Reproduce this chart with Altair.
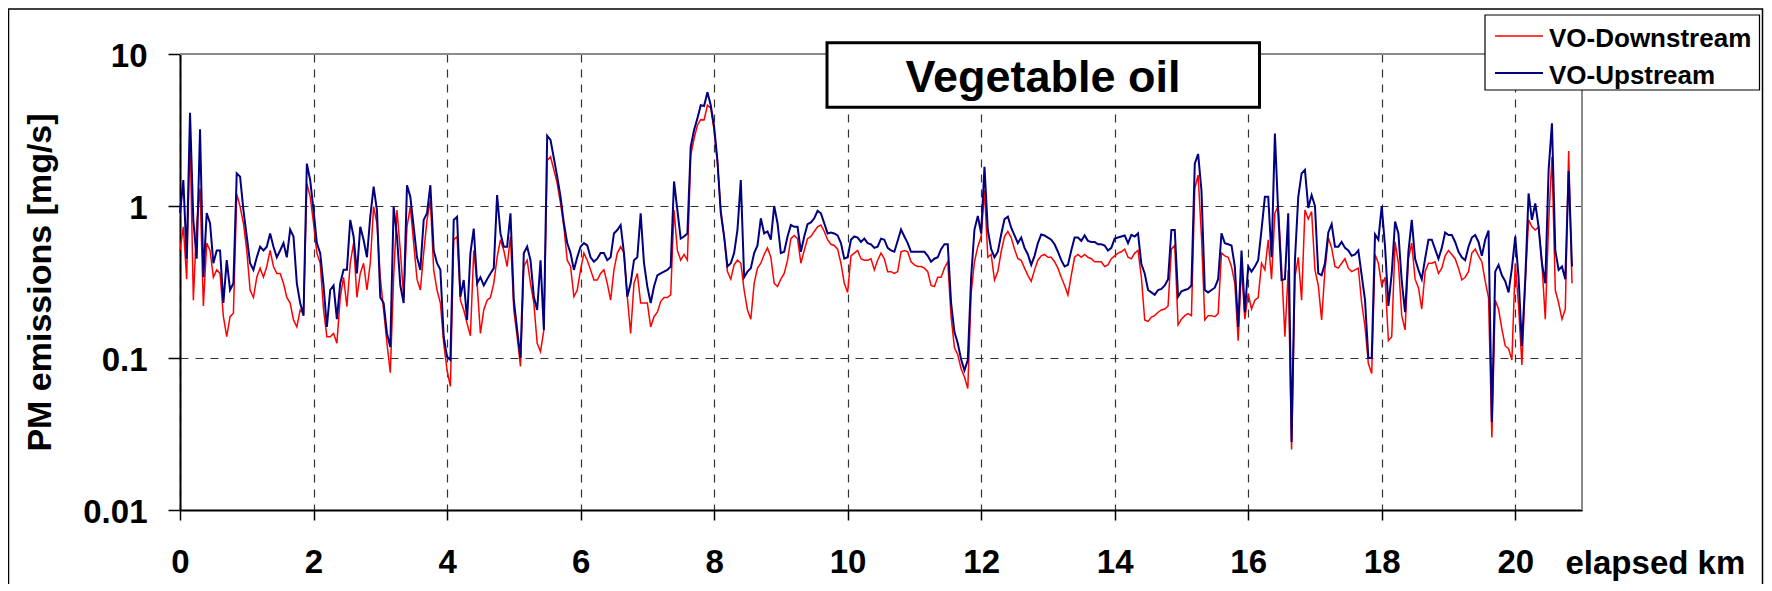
import altair as alt
import pandas as pd

# ---------------- data ----------------
KM_STEP = 0.05
SEGMENT_START_KM = [0.0, 3.65, 7.15, 10.65, 14.2, 17.7]

UP1 = [0.9, 1.48, 0.45, 4.1, 0.8, 0.45, 3.2, 0.34, 0.9, 0.77,
       0.42, 0.51, 0.51, 0.23, 0.44, 0.28, 0.31, 1.64, 1.56, 0.94,
       0.63, 0.42, 0.38, 0.46, 0.54, 0.51, 0.54, 0.66, 0.54, 0.46,
       0.51, 0.57, 0.46, 0.7, 0.63, 0.31, 0.23, 0.19, 1.9, 1.48,
       0.94, 0.57, 0.49, 0.3, 0.16, 0.28, 0.3, 0.18, 0.31, 0.38,
       0.38, 0.81, 0.63, 0.36, 0.73, 0.6, 0.46, 0.85, 1.34, 0.94,
       0.25, 0.23, 0.145, 0.118, 0.99, 0.63, 0.3, 0.23, 1.37, 1.15,
       0.73, 0.46, 0.38]
DOWN1 = [0.51, 0.73, 0.33, 3.0, 0.24, 0.77, 1.3, 0.22, 0.57, 0.51,
         0.34, 0.38, 0.36, 0.187, 0.138, 0.187, 0.197, 1.2, 0.99, 0.77,
         0.51, 0.28, 0.25, 0.34, 0.39, 0.34, 0.4, 0.51, 0.4, 0.36,
         0.36, 0.31, 0.25, 0.23, 0.178, 0.16, 0.207, 0.197, 1.41, 1.15,
         0.77, 0.49, 0.42, 0.207, 0.138, 0.138, 0.145, 0.125, 0.25, 0.34,
         0.218, 0.42, 0.57, 0.25, 0.36, 0.42, 0.28, 0.42, 0.99, 0.77,
         0.34, 0.207, 0.125, 0.08, 0.34, 0.94, 0.51, 0.25, 0.73, 0.99,
         0.57, 0.33, 0.28]

UP2 = [0.81, 0.895, 1.37, 0.51, 0.42, 0.38, 0.138, 0.102, 0.097, 0.81,
       0.85, 0.253, 0.326, 0.178, 0.49, 0.71, 0.31, 0.34, 0.3, 0.33,
       0.36, 0.39, 1.18, 0.66, 0.54, 0.54, 0.895, 0.24, 0.153, 0.1,
       0.49, 0.54, 0.44, 0.253, 0.207, 0.44, 0.153, 2.9, 2.72, 2.06,
       1.56, 1.15, 0.77, 0.57, 0.49, 0.38, 0.46, 0.54, 0.57, 0.55,
       0.46, 0.43, 0.45, 0.49, 0.49, 0.44, 0.46, 0.66, 0.695, 0.75,
       0.49, 0.253, 0.31, 0.44, 0.46, 0.895, 0.42, 0.295, 0.23, 0.295]
DOWN2 = [0.49, 0.81, 1.095, 0.38, 0.28, 0.23, 0.125, 0.083, 0.065, 0.6,
         0.63, 0.24, 0.207, 0.169, 0.14, 0.51, 0.31, 0.145, 0.207, 0.24,
         0.25, 0.31, 0.46, 0.6, 0.51, 0.4, 0.63, 0.207, 0.138, 0.088,
         0.4, 0.44, 0.31, 0.23, 0.125, 0.11, 0.153, 2.0, 2.11, 1.73,
         1.41, 1.04, 0.73, 0.44, 0.4, 0.253, 0.28, 0.38, 0.49, 0.44,
         0.38, 0.326, 0.326, 0.36, 0.38, 0.31, 0.24, 0.38, 0.49, 0.54,
         0.49, 0.253, 0.145, 0.31, 0.36, 0.23, 0.23, 0.23, 0.16, 0.187]

UP3 = [0.35, 0.36, 0.37, 0.38, 0.4, 1.45, 0.94, 0.61, 0.63, 0.66,
       2.46, 3.16, 3.77, 4.6, 4.55, 5.6, 4.6, 3.33, 2.0, 0.9,
       0.63, 0.4, 0.42, 0.49, 0.695, 1.48, 0.34, 0.37, 0.39, 0.49,
       0.55, 0.83, 0.66, 0.68, 0.6, 1.0, 0.77, 0.49, 0.5, 0.63,
       0.75, 0.73, 0.73, 0.5, 0.63, 0.76, 0.78, 0.83, 0.93, 0.895,
       0.77, 0.66, 0.67, 0.66, 0.64, 0.57, 0.45, 0.46, 0.6, 0.63,
       0.62, 0.58, 0.61, 0.57, 0.56, 0.53, 0.54, 0.61, 0.6, 0.53]
DOWN3 = [0.2, 0.235, 0.25, 0.25, 0.26, 0.94, 0.51, 0.44, 0.48, 0.44,
         2.16, 2.78, 3.4, 3.7, 3.68, 4.6, 4.4, 3.16, 1.91, 0.95,
         0.63, 0.37, 0.33, 0.41, 0.44, 0.42, 0.28, 0.207, 0.18, 0.31,
         0.39, 0.42, 0.48, 0.53, 0.46, 0.31, 0.295, 0.33, 0.36, 0.44,
         0.61, 0.64, 0.61, 0.42, 0.51, 0.61, 0.63, 0.68, 0.73, 0.75,
         0.68, 0.6, 0.56, 0.55, 0.52, 0.42, 0.31, 0.27, 0.47, 0.49,
         0.51, 0.45, 0.44, 0.44, 0.45, 0.38, 0.44, 0.49, 0.45, 0.37]

UP4 = [0.51, 0.5, 0.59, 0.7, 0.63, 0.57, 0.5, 0.5, 0.5, 0.5,
       0.5, 0.47, 0.43, 0.45, 0.46, 0.52, 0.56, 0.56, 0.23, 0.148,
       0.125, 0.098, 0.083, 0.097, 0.34, 0.7, 0.86, 0.66, 1.81, 0.695,
       0.52, 0.46, 0.5, 0.65, 0.82, 0.85, 0.72, 0.64, 0.57, 0.62,
       0.53, 0.48, 0.41, 0.47, 0.57, 0.65, 0.64, 0.62, 0.6, 0.56,
       0.5, 0.44, 0.4, 0.41, 0.51, 0.62, 0.62, 0.59, 0.64, 0.59,
       0.58, 0.58, 0.56, 0.56, 0.55, 0.51, 0.53, 0.61, 0.62, 0.63, 0.64]
DOWN4 = [0.37, 0.36, 0.37, 0.5, 0.51, 0.5, 0.43, 0.41, 0.4, 0.4,
         0.39, 0.37, 0.3, 0.295, 0.34, 0.34, 0.39, 0.43, 0.187, 0.117,
         0.105, 0.085, 0.075, 0.063, 0.266, 0.43, 0.54, 0.63, 1.27, 0.46,
         0.48, 0.326, 0.37, 0.5, 0.63, 0.68, 0.62, 0.52, 0.45, 0.44,
         0.39, 0.35, 0.32, 0.38, 0.44, 0.47, 0.48, 0.46, 0.46, 0.43,
         0.39, 0.34, 0.3, 0.26, 0.35, 0.46, 0.48, 0.46, 0.48, 0.46,
         0.45, 0.43, 0.43, 0.43, 0.4, 0.41, 0.45, 0.47, 0.49, 0.5, 0.52]

UP5 = [0.57, 0.645, 0.63, 0.66, 0.415, 0.36, 0.28, 0.27, 0.26, 0.28,
       0.285, 0.3, 0.33, 0.695, 0.695, 0.253, 0.275, 0.28, 0.285, 0.3,
       1.9, 2.2, 1.27, 0.28, 0.27, 0.28, 0.29, 0.33, 0.66, 0.57,
       0.56, 0.55, 0.4, 0.16, 0.51, 0.2, 0.4, 0.37, 0.4, 0.44,
       0.7, 1.15, 1.15, 0.46, 3.0, 0.9, 0.326, 0.33, 0.895, 0.028,
       0.44, 1.15, 1.64, 1.73, 0.97, 1.18, 1.0, 0.36, 0.35, 0.42,
       0.67, 0.76, 0.54, 0.54, 0.58, 0.53, 0.51, 0.47, 0.48, 0.51]
DOWN5 = [0.46, 0.45, 0.49, 0.51, 0.34, 0.178, 0.174, 0.186, 0.19, 0.2,
         0.207, 0.21, 0.22, 0.52, 0.55, 0.165, 0.18, 0.19, 0.196, 0.19,
         1.3, 1.6, 0.63, 0.178, 0.19, 0.19, 0.187, 0.196, 0.49, 0.47,
         0.46, 0.4, 0.31, 0.13, 0.4, 0.18, 0.266, 0.21, 0.24, 0.25,
         0.42, 0.38, 0.6, 0.33, 0.9, 1.0, 0.4, 0.138, 0.38, 0.025,
         0.34, 0.46, 0.24, 0.94, 0.82, 0.92, 0.38, 0.3, 0.178, 0.38,
         0.62, 0.53, 0.4, 0.39, 0.42, 0.45, 0.39, 0.37, 0.38, 0.39]

UP6 = [0.35, 0.24, 0.1, 0.1, 0.65, 0.6, 1.0, 0.54, 0.22, 0.36,
       0.79, 0.66, 0.32, 0.2, 0.5, 0.81, 0.45, 0.38, 0.33, 0.45,
       0.6, 0.6, 0.52, 0.45, 0.53, 0.67, 0.645, 0.645, 0.58, 0.5,
       0.46, 0.44, 0.54, 0.62, 0.645, 0.58, 0.47, 0.6, 0.69, 0.038,
       0.37, 0.41, 0.35, 0.32, 0.27, 0.39, 0.63, 0.34, 0.12, 0.33,
       1.21, 0.81, 1.04, 0.73, 0.42, 0.31, 1.73, 3.5, 0.51, 0.38,
       0.4, 0.33, 1.7, 0.4]
DOWN6 = [0.23, 0.16, 0.092, 0.079, 0.48, 0.42, 0.3, 0.34, 0.13, 0.138,
         0.58, 0.42, 0.19, 0.153, 0.45, 0.57, 0.33, 0.29, 0.21, 0.37,
         0.42, 0.42, 0.43, 0.36, 0.39, 0.47, 0.51, 0.48, 0.45, 0.39,
         0.326, 0.34, 0.37, 0.49, 0.52, 0.47, 0.43, 0.32, 0.25, 0.03,
         0.24, 0.21, 0.155, 0.12, 0.115, 0.097, 0.42, 0.22, 0.09, 0.31,
         0.81, 0.73, 0.695, 0.73, 0.42, 0.18, 0.77, 2.1, 0.28, 0.23,
         0.18, 0.21, 2.3, 0.31]

UPSTREAM_SEGMENTS = [UP1, UP2, UP3, UP4, UP5, UP6]
DOWNSTREAM_SEGMENTS = [DOWN1, DOWN2, DOWN3, DOWN4, DOWN5, DOWN6]

SERIES = ["VO-Downstream", "VO-Upstream"]
COLORS = ["#ff0000", "#000080"]
X_TICKS = [0, 2, 4, 6, 8, 10, 12, 14, 16, 18, 20]
Y_TICKS = [0.01, 0.1, 1, 10]
TITLE_TEXT = "Vegetable oil"
X_TITLE = "elapsed km"
Y_TITLE = "PM emissions [mg/s]"

# ---------------- table ----------------
rows = []
for start, ups, downs in zip(SEGMENT_START_KM, UPSTREAM_SEGMENTS, DOWNSTREAM_SEGMENTS):
    for j, v in enumerate(downs):
        rows.append({"km": round(start + j * KM_STEP, 3), "value": v, "series": SERIES[0]})
    for j, v in enumerate(ups):
        rows.append({"km": round(start + j * KM_STEP, 3), "value": v, "series": SERIES[1]})
df = pd.DataFrame(rows)

FONT = "Liberation Sans"
W, H = 1402, 456
one = pd.DataFrame({"k": [1]})

x_enc = alt.X(
    "km:Q",
    scale=alt.Scale(domain=[0, 21], nice=False, zero=False),
    axis=alt.Axis(
        values=X_TICKS, format="d", title=X_TITLE,
        grid=True, gridColor="#333333", gridDash=[8, 7], gridWidth=1.2,
        domainColor="black", domainWidth=2,
        tickColor="black", tickWidth=1.5, tickSize=10,
        labelFont=FONT, labelFontSize=33, labelFontWeight="bold", labelColor="black",
        labelBaseline="alphabetic", labelPadding=52, labelFlush=False, labelOverlap=False,
        titleFont=FONT, titleFontSize=33, titleFontWeight="bold", titleColor="black",
        titleX=1385, titleY=63, titleAlign="left", titleBaseline="alphabetic",
    ),
)
y_enc = alt.Y(
    "value:Q",
    scale=alt.Scale(type="log", domain=[0.01, 10], nice=False),
    axis=alt.Axis(
        values=Y_TICKS, format="~g", title=Y_TITLE,
        grid=True, gridColor="#333333", gridDash=[8, 7], gridWidth=1.2,
        domainColor="black", domainWidth=2,
        tickColor="black", tickWidth=1.5, tickSize=12,
        labelFont=FONT, labelFontSize=33, labelFontWeight="bold", labelColor="black",
        labelBaseline="alphabetic", labelOffset=12, labelPadding=21,
        labelFlush=False, labelOverlap=False,
        titleFont=FONT, titleFontSize=34, titleFontWeight="bold", titleColor="black",
        titleX=-130, titleY=228, titleAngle=270, titleAlign="center", titleBaseline="alphabetic",
    ),
)
color_enc = alt.Color("series:N", scale=alt.Scale(domain=SERIES, range=COLORS), legend=None)

frame = alt.Chart(one).mark_rect(fill="transparent", stroke="black", strokeWidth=1.5).encode(
    x=alt.value(-171.5), x2=alt.value(1582.5), y=alt.value(-45), y2=alt.value(700)
)

down_line = alt.Chart(df).transform_filter(alt.datum.series == SERIES[0]).mark_line(
    strokeWidth=1.5).encode(x=x_enc, y=y_enc, color=color_enc)
up_line = alt.Chart(df).transform_filter(alt.datum.series == SERIES[1]).mark_line(
    strokeWidth=2).encode(x=x_enc, y=y_enc, color=color_enc)

top_border = alt.Chart(one).mark_rule(color="#8a8a8a", strokeWidth=2).encode(
    x=alt.value(0), x2=alt.value(W), y=alt.value(0))
right_border = alt.Chart(one).mark_rule(color="#8a8a8a", strokeWidth=2).encode(
    x=alt.value(W), y=alt.value(0), y2=alt.value(H))

title_box = alt.Chart(one).mark_rect(fill="white", stroke="black", strokeWidth=3).encode(
    x=alt.value(647), x2=alt.value(1079.5), y=alt.value(-11.3), y2=alt.value(53.3))
title_text = alt.Chart(pd.DataFrame({"label": [TITLE_TEXT]})).mark_text(
    font=FONT, fontSize=45, fontWeight="bold", color="black", align="center", baseline="alphabetic"
).encode(text="label:N", x=alt.value(863), y=alt.value(38))

legend_box = alt.Chart(one).mark_rect(fill="white", stroke="black", strokeWidth=1.2).encode(
    x=alt.value(1305), x2=alt.value(1579.5), y=alt.value(-39), y2=alt.value(36))
leg_df = pd.DataFrame({"series": SERIES})
legend_layers = []
for i, (name, col, yy) in enumerate(zip(SERIES, COLORS, [-18, 19])):
    legend_layers.append(
        alt.Chart(leg_df).transform_filter(alt.datum.series == name).mark_rule(
            color=col, strokeWidth=1.5 if i == 0 else 2).encode(
            x=alt.value(1315), x2=alt.value(1363), y=alt.value(yy)))
    legend_layers.append(
        alt.Chart(leg_df).transform_filter(alt.datum.series == name).mark_text(
            font=FONT, fontSize=26, fontWeight="bold", color="black", align="left",
            baseline="alphabetic").encode(
            text="series:N", x=alt.value(1369), y=alt.value(yy + 11)))

chart = alt.layer(
    frame, down_line, up_line, top_border, right_border,
    title_box, title_text, legend_box, *legend_layers
).properties(
    width=W, height=H,
    autosize=alt.AutoSizeParams(type="none"),
    padding={"left": 172, "top": 46, "right": 182, "bottom": 74},
    background="white",
).configure(font=FONT).configure_view(stroke="transparent")

chart.save("out.html", embed_options={"renderer": "svg", "actions": False})
